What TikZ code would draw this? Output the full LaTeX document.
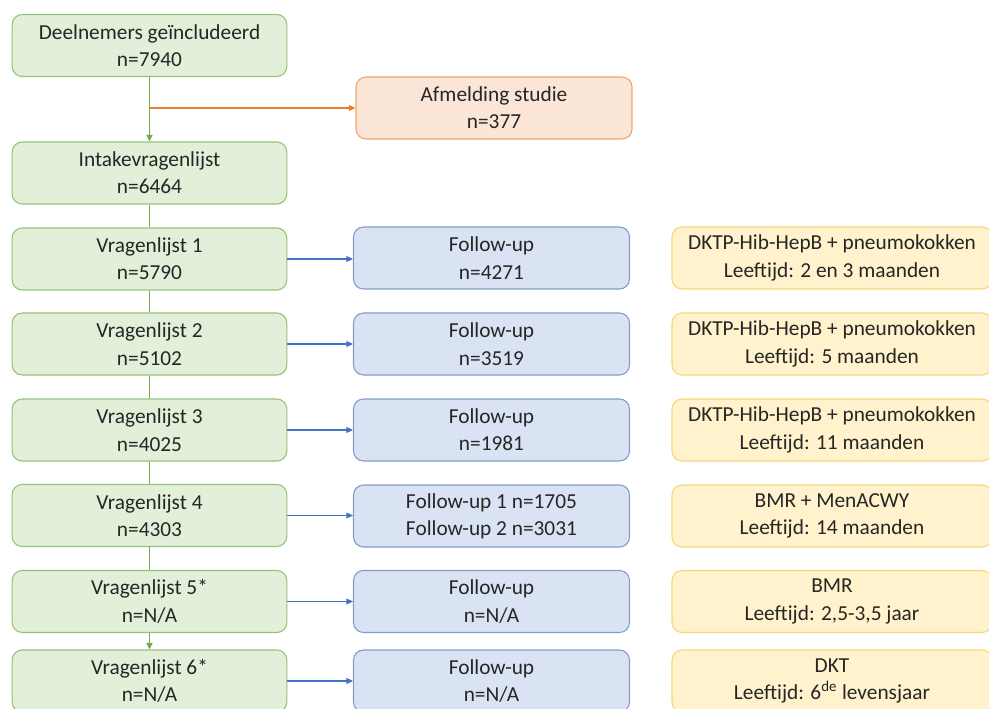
\documentclass[tikz,border=0pt]{standalone}
\usepackage{fontspec}
\setmainfont{Carlito}
\usetikzlibrary{arrows.meta}
\definecolor{vulgroen}{HTML}{E2F0D9}
\definecolor{randgroen}{HTML}{97C17A}
\definecolor{lijngroen}{HTML}{70AD47}
\definecolor{vuloranje}{HTML}{FBE5D6}
\definecolor{randoranje}{HTML}{F0A46E}
\definecolor{lijnoranje}{HTML}{ED7D31}
\definecolor{vulblauw}{HTML}{DAE3F3}
\definecolor{randblauw}{HTML}{7F9CCB}
\definecolor{lijnblauw}{HTML}{4472C4}
\definecolor{vulgeel}{HTML}{FFF2CC}
\definecolor{randgeel}{HTML}{F5D77A}

\begin{document}
\begin{tikzpicture}[x=0.75pt, y=-0.75pt,
		doos/.style={rounded corners=7.5pt, align=center, minimum height=46.5pt, inner sep=0pt, line width=0.8pt, text=black!85, font=\fontsize{16}{20.5}\selectfont},
		groen/.style={doos, draw=randgroen, fill=vulgroen, minimum width=206pt},
		oranje/.style={doos, draw=randoranje, fill=vuloranje, minimum width=207pt},
		blauw/.style={doos, draw=randblauw, fill=vulblauw, minimum width=207pt},
		geel/.style={doos, draw=randgeel, fill=vulgeel, minimum width=240pt},
		pijl/.style={line width=0.9pt, -{Triangle[length=5pt, width=4.5pt]}}]
			%%%%% START %%%%%
			
			\useasboundingbox (0, 0) rectangle (989, 709);
			
			% linker kolom: vragenlijsten
			\node[groen] (deeln) at (149.5, 45.5) {Deelnemers geïncludeerd\\n=7940};
			\node[groen] (intake) at (149.5, 173) {Intakevragenlijst\\n=6464};
			\node[groen] (vl1) at (149.5, 259) {Vragenlijst 1\\n=5790};
			\node[groen] (vl2) at (149.5, 344) {Vragenlijst 2\\n=5102};
			\node[groen] (vl3) at (149.5, 430) {Vragenlijst 3\\n=4025};
			\node[groen] (vl4) at (149.5, 515.5) {Vragenlijst 4\\n=4303};
			\node[groen] (vl5) at (149.5, 601.5) {Vragenlijst 5*\\n=N/A};
			\node[groen] (vl6) at (149.5, 681) {Vragenlijst 6*\\n=N/A};
			
			% afmelding
			\node[oranje] (afmeld) at (494, 108) {Afmelding studie\\n=377};
			
			% middelste kolom: follow-up
			\node[blauw] (fu1) at (491.5, 258) {Follow-up\\n=4271};
			\node[blauw] (fu2) at (491.5, 344) {Follow-up\\n=3519};
			\node[blauw] (fu3) at (491.5, 430) {Follow-up\\n=1981};
			\node[blauw] (fu4) at (491.5, 516) {Follow-up 1 n=1705\\Follow-up 2 n=3031};
			\node[blauw] (fu5) at (491.5, 601.5) {Follow-up\\n=N/A};
			\node[blauw] (fu6) at (491.5, 681) {Follow-up\\n=N/A};
			
			% rechter kolom: vaccinaties
			\node[geel] (vac1) at (832, 258) {DKTP-Hib-HepB + pneumokokken\\Leeftijd: 2 en 3 maanden};
			\node[geel] (vac2) at (832, 344) {DKTP-Hib-HepB + pneumokokken\\Leeftijd: 5 maanden};
			\node[geel] (vac3) at (832, 430) {DKTP-Hib-HepB + pneumokokken\\Leeftijd: 11 maanden};
			\node[geel] (vac4) at (832, 516) {BMR + MenACWY\\Leeftijd: 14 maanden};
			\node[geel] (vac5) at (832, 601.5) {BMR\\Leeftijd: 2,5-3,5 jaar};
			\node[geel] (vac6) at (832, 681) {DKT\\Leeftijd: 6\textsuperscript{de} levensjaar};
			
			% verbindingen
			\coordinate (split) at (deeln.south |- afmeld.west);
			\draw[pijl, draw=lijnoranje, fill=lijnoranje] (split) -- (afmeld);
			\draw[pijl, line width=1.3pt, draw=lijngroen, fill=lijngroen] (deeln) -- (intake);
			\draw[line width=1.3pt, lijngroen] (intake) -- (vl1) (vl1) -- (vl2) (vl2) -- (vl3) (vl3) -- (vl4) (vl4) -- (vl5);
			\draw[pijl, line width=1.3pt, draw=lijngroen, fill=lijngroen] (vl5) -- (vl6);
			\foreach \i in {1,...,6}
				\draw[pijl, draw=lijnblauw, fill=lijnblauw] (vl\i) -- (vl\i -| fu\i.west);
			
			%%%%% END %%%%%
		\end{tikzpicture}
\end{document}
